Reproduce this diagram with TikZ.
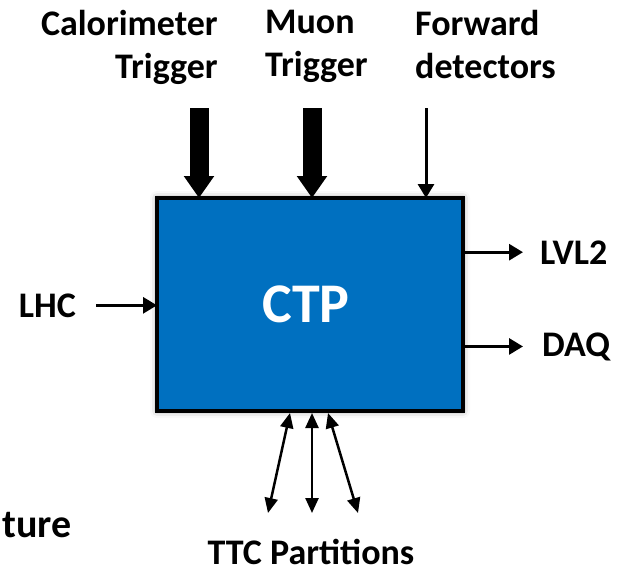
\documentclass[tikz,border=0pt]{standalone}
\usepackage{fontspec}
\setmainfont{Carlito}
\usetikzlibrary{arrows.meta,positioning,shadows.blur}
\definecolor{ctpblue}{RGB}{0,112,192}

\begin{document}
\begin{tikzpicture}[x=1pt,y=-1pt,
   ctpbox/.style={draw,line width=4pt,fill=ctpblue,outer sep=0pt,
                  minimum width=306pt,minimum height=213pt,text=white,
                  font=\fontsize{56}{60}\selectfont\bfseries,
                  blur shadow={shadow xshift=0pt,shadow yshift=0pt,
                               shadow blur radius=7pt}},
   lbl/.style={inner sep=0pt,font=\fontsize{36}{43}\selectfont\bfseries},
   fat/.style={-{Triangle[width=29pt,length=22pt]},line width=19pt},
   sig/.style={-{Triangle[width=16pt,length=14pt]},line width=3pt},
   dbl/.style={{Triangle[width=13pt,length=15pt]}-{Triangle[width=13pt,length=15pt]},
               line width=2.5pt}]
  \useasboundingbox (0,0) rectangle (627,571);

  \node[ctpbox] (ctp) at (310,304.5) {\hspace*{-8pt}CTP};

  % inputs from above
  \node[lbl,align=right,anchor=north east] (calo) at (218,10) {Calorimeter\\Trigger};
  \node[lbl,align=left,anchor=north west] (muon) at (265,10) {Muon\\Trigger};
  \node[lbl,align=left,anchor=north west] (fwd) at (415,10) {Forward\\detectors};
  \coordinate (caloin) at (199,108);
  \coordinate (muonin) at (312,108);
  \coordinate (fwdin) at (426,108);
  \draw[fat] (caloin) -- (caloin |- ctp.north);
  \draw[fat] (muonin) -- (muonin |- ctp.north);
  \draw[sig] (fwdin) -- (fwdin |- ctp.north);

  % sides
  \node[lbl,anchor=base east] (lhc) at (76,317) {LHC};
  \node[lbl,anchor=base west] (lvl2) at (540,264) {LVL2};
  \node[lbl,anchor=base west] (daq) at (542,356) {DAQ};
  \draw[sig] ([xshift=20pt]lhc.east) -- (ctp.west |- lhc.east);
  \draw[sig] (ctp.east |- lvl2.west) -- ([xshift=-17pt]lvl2.west);
  \draw[sig] (ctp.east |- daq.west) -- ([xshift=-19pt]daq.west);

  % partitions
  \node[lbl,anchor=base] (ttc) at (311,564) {TTC Partitions};
  \coordinate (p1) at (290,413);
  \coordinate (p2) at (312,413);
  \coordinate (p3) at (328,413);
  \coordinate (t1) at (268,513);
  \coordinate (t2) at (312,513);
  \coordinate (t3) at (358,513);
  \draw[dbl] (p1) -- (t1);
  \draw[dbl] (p2) -- (t2);
  \draw[dbl] (p3) -- (t3);

  \node[lbl,anchor=base east,font=\fontsize{40}{44}\selectfont\bfseries] (cut) at (72,537) {ture};
\end{tikzpicture}
\end{document}
